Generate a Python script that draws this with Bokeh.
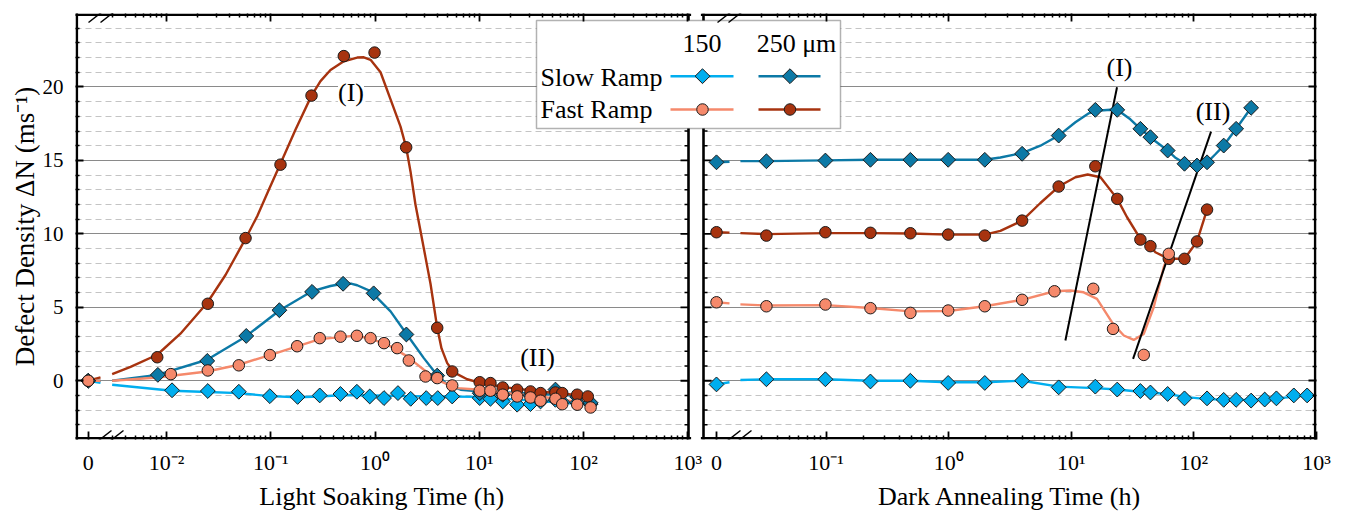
import math
from bokeh.plotting import figure
from bokeh.models import (Range1d, FixedTicker, LinearAxis, LogAxis, BoxAnnotation, Label, Arrow,
                          CustomJSTickFormatter, BasicTickFormatter)
from bokeh.embed import file_html
from bokeh.resources import INLINE

FONT = "Liberation Serif"

# ---------------- data: light soaking (left panel), t in h, 0 = initial ----------------
ls_s150_t = [0, 0.0113, 0.0249, 0.0494, 0.098, 0.181, 0.295, 0.466, 0.67, 0.89, 1.22, 1.66, 2.2, 3.1, 4.0, 5.5,
             10.1, 12.8, 16.8, 23.1, 31, 38.7, 53.8, 62.5, 87, 117]
ls_s150_v = [0, -0.65, -0.7, -0.75, -1.05, -1.1, -1.0, -0.9, -0.75, -1.07, -1.18, -0.84, -1.23, -1.18, -1.18, -1.07,
             -1.18, -1.23, -1.41, -1.63, -1.59, -1.41, -1.3, -1.45, -1.5, -1.59]
ls_s250_t = [0, 0.00826, 0.0246, 0.0582, 0.121, 0.249, 0.494, 0.97, 2.0, 3.95, 10.1, 16.8, 31, 53.8, 87, 117]
ls_s250_v = [0, 0.4, 1.35, 3.05, 4.8, 6.05, 6.6, 5.95, 3.15, 0.35, -0.85, -0.95, -1.0, -0.6, -1.1, -1.5]
ls_f150_t = [0, 0.011, 0.0249, 0.0494, 0.098, 0.179, 0.295, 0.466, 0.67, 0.906, 1.22, 1.63, 2.11, 3.05, 3.95, 5.5,
             10.1, 12.8, 16.8, 23.1, 31, 38.7, 53.8, 62.5, 87, 117]
ls_f150_v = [0, 0.45, 0.7, 1.05, 1.75, 2.35, 2.9, 3.0, 3.06, 2.9, 2.56, 2.22, 1.38, 0.29, 0.18, -0.32,
             -0.68, -0.68, -0.95, -1.07, -1.14, -1.36, -1.23, -1.6, -1.63, -1.82]
ls_f250_t = [0, 0.00815, 0.0249, 0.0573, 0.124, 0.246, 0.502, 0.99, 1.99, 3.95, 5.5,
             10.1, 12.8, 16.8, 23.1, 31, 38.7, 53.8, 62.5, 87, 110]
ls_f250_v = [0, 1.6, 5.24, 9.71, 14.71, 19.41, 22.1, 22.34, 15.89, 3.6, 0.63,
             -0.1, -0.16, -0.46, -0.61, -0.73, -0.84, -0.8, -0.84, -0.95, -1.07]

# fitted curves
ls_s150_fit_t = [0.00301, 0.0113, 0.0249, 0.0494, 0.098, 0.181, 0.295, 0.5, 1.0, 2.0, 5.0, 10, 20, 40, 80, 120]
ls_s150_fit_v = [-0.27, -0.68, -0.77, -0.84, -1.05, -1.12, -1.07, -0.97, -1.0, -1.05, -1.07, -1.1, -1.25, -1.4, -1.55, -1.6]
ls_s250_fit_t = [0.00301, 0.00815, 0.0245, 0.0573, 0.122, 0.246, 0.374, 0.502, 0.6, 0.675, 0.906, 1.41, 2.03, 2.94,
                 3.80, 4.93, 6.62, 10.3, 18.5, 38.7, 80.8, 117]
ls_s250_fit_v = [0.0, 0.4, 1.43, 3.0, 4.8, 6.08, 6.45, 6.62, 6.6, 6.5, 6.1, 4.72, 3.13, 1.54,
                 0.52, -0.27, -0.61, -0.73, -0.8, -0.9, -1.0, -1.1]
ls_f150_fit_t = [0.00301, 0.00815, 0.0245, 0.0494, 0.098, 0.179, 0.295, 0.466, 0.675, 0.975, 1.41, 2.03, 2.94, 4.25,
                 6.15, 10.3, 18.5, 38.7, 80.8, 117]
ls_f150_fit_v = [0.0, 0.22, 0.63, 1.09, 1.75, 2.34, 2.83, 2.97, 3.08, 2.79, 2.34, 1.66, 0.75, -0.05,
                 -0.5, -0.61, -0.84, -1.07, -1.41, -1.63]
ls_f250_fit_t = [0.00301, 0.00452, 0.00815, 0.0136, 0.0245, 0.0368, 0.0573, 0.0741, 0.0951, 0.122, 0.173, 0.246,
                 0.300, 0.374, 0.502, 0.675, 0.781, 0.906, 1.13, 1.51, 1.757, 1.99, 2.19, 2.443, 2.732, 3.051, 3.407,
                 3.952, 4.345, 4.927, 5.418, 6.144, 7.662, 10.28, 18.5, 38.7, 80.8, 117]
ls_f250_fit_v = [0.45, 0.95, 1.77, 3.2, 5.29, 7.2, 9.67, 11.2, 12.95, 14.67, 17.1, 19.41,
                 20.4, 21.15, 21.75, 22.0, 22.02, 21.85, 21.0, 18.57, 17.3, 15.89, 14.25, 12.0, 10.2, 8.4, 6.6,
                 3.6, 2.2, 1.2, 0.8, 0.45, 0.1, -0.15, -0.46, -0.73, -0.95, -1.07]

# ---------------- data: dark annealing (right panel) ----------------
da_t = [0, 0.0326, 0.0987, 0.23, 0.487, 0.99, 1.97, 3.97, 7.89, 15.7, 23.7, 36.6, 44.2, 61.1, 83.8, 106, 128, 175, 221, 293]
da_s250_v = [14.87, 14.94, 14.99, 15.04, 15.04, 15.04, 15.04, 15.45, 16.69, 18.44, 18.44, 17.15, 16.58, 15.67, 14.77,
             14.65, 14.87, 16.01, 17.15, 18.58]
da_f250_t = [0, 0.0326, 0.0987, 0.23, 0.487, 0.99, 1.97, 3.97, 7.89, 15.7, 23.7, 36.6, 44.2, 62.4, 83.8, 106, 128]
da_f250_v = [10.11, 9.88, 10.11, 10.07, 10.04, 9.95, 9.88, 10.9, 13.22, 14.6, 12.38, 9.61, 9.16, 8.3, 8.3, 9.48, 11.65]
da_f150_t = [0, 0.0326, 0.0987, 0.23, 0.487, 0.99, 1.97, 3.97, 7.29, 15.1, 21.9, 39, 62.4]
da_f150_v = [5.34, 5.07, 5.19, 4.94, 4.62, 4.78, 5.07, 5.51, 6.09, 6.26, 3.53, 1.76, 8.64]
da_s150_t = [0, 0.0326, 0.0987, 0.23, 0.487, 0.99, 1.97, 3.97, 7.89, 15.7, 23.7, 36.6, 44.2, 61.1, 83.8, 128, 175,
             221, 293, 378, 471, 653, 839]
da_s150_v = [-0.25, 0.1, 0.1, -0.05, 0.0, -0.15, -0.15, 0.0, -0.45, -0.4, -0.6, -0.7, -0.8, -0.9, -1.2, -1.2, -1.3,
             -1.3, -1.35, -1.28, -1.2, -1.0, -1.0]

da_s150_fit_t = [0.02, 0.0326, 0.0987, 0.23, 0.487, 0.99, 1.97, 3.97, 7.89, 15.7, 23.7, 36.6, 61.1, 83.8, 128, 200,
                 300, 400, 650, 840]
da_s150_fit_v = [0.05, 0.1, 0.1, 0.0, 0.0, -0.1, -0.1, 0.0, -0.4, -0.5, -0.6, -0.75, -0.9, -1.1, -1.25, -1.3,
                 -1.3, -1.25, -1.1, -1.0]
da_s250_fit_t = [0.02, 0.0326, 0.0987, 0.23, 0.487, 0.99, 1.97, 2.64, 3.97, 5.6, 7.89, 10.8, 13.8, 17.3, 20.8, 25.1,
                 30.3, 36.6, 44.2, 48.5, 61.1, 70.2, 83.8, 102, 128, 149, 175, 221, 293]
da_s250_fit_v = [14.95, 14.95, 15.0, 15.04, 15.04, 15.04, 15.04, 15.2, 15.5, 16.0, 16.69, 17.6, 18.2, 18.4, 18.45, 18.3,
                 17.8, 17.15, 16.58, 16.3, 15.67, 15.2, 14.8, 14.6, 14.85, 15.4, 16.01, 17.15, 18.58]
da_f250_fit_t = [0.02, 0.0326, 0.0987, 0.23, 0.487, 0.99, 1.97, 2.64, 3.97, 5.6, 7.89, 10.8, 13.6, 17.3, 23.7, 28.5,
                 36.6, 44.2, 48.5, 62.4, 83.8, 106, 128]
da_f250_fit_v = [10.05, 9.98, 10.05, 10.05, 10.02, 9.95, 9.95, 10.2, 10.9, 12.1, 13.22, 13.85, 14.04, 13.85, 12.38, 11.13,
                 9.66, 9.16, 8.75, 8.3, 8.3, 9.48, 11.65]
da_f150_fit_t = [0.02, 0.0326, 0.0987, 0.23, 0.487, 0.99, 1.97, 3.97, 7.29, 9.84, 12.6, 16.2, 21.9, 26.8, 32.3, 39.0,
                 47.0, 56.7, 62.3]
da_f150_fit_v = [5.2, 5.12, 5.15, 4.95, 4.72, 4.75, 5.07, 5.51, 6.09, 6.14, 6.02, 5.57, 3.87, 3.08, 2.78, 3.19,
                 5.0, 7.73, 8.64]

# guide lines (I) and (II) in the dark-annealing panel
da_guideI_t = [8.95, 23.6]
da_guideI_v = [2.74, 19.98]
da_guideII_t = [31.9, 138]
da_guideII_v = [1.49, 16.96]

# ticks / labels
y_ticks = [0, 5, 10, 15, 20]
left_decades = [-2, -1, 0, 1, 2, 3]
right_decades = [-1, 0, 1, 2, 3]
SUP = {"-": "\u207b", "0": "\u2070", "1": "\u00b9", "2": "\u00b2", "3": "\u00b3"}
x_title_left = "Light Soaking Time (h)"
x_title_right = "Dark Annealing Time (h)"
y_title = "Defect Density \u0394N (ms\u207b\u00b9)"

C_S150 = "#00AEEF"
C_S250 = "#0C79A6"
C_F150 = "#F5896B"
C_F250 = "#A7330F"
C_EDGE = "#1a1a1a"

# ---------------- layout geometry (pixels) ----------------
W, H = 1348, 525
FX0, FX1, FY0, FY1 = 75, 1316, 13, 439
L_END_PX, R_START_PX = 688, 703
LEG_L, LEG_R, LEG_T, LEG_B = 536, 840, 20, 128
L_DEC, R_DEC = 104.25, 122.6
L_LOG0 = -2.873
L_ZERO_LOG = -2.751
R_LOG_START = -2.0
R_ZERO_LOG = -1.894
Y_MIN, Y_MAX = -4, 25


def L_of_px(px):
    return 10 ** (L_LOG0 + (px - FX0) / L_DEC)


def R_of_px(px):
    return 10 ** (R_LOG_START + (px - R_START_PX) / R_DEC)


def px_of_R(t):
    return R_START_PX + (math.log10(t) - R_LOG_START) * R_DEC


def R_to_L(t):
    return L_of_px(px_of_R(t))


def v_of_py(py):
    return Y_MAX - (py - FY0) * (Y_MAX - Y_MIN) / (FY1 - FY0)


def lpos(ts):
    return [t if t > 0 else 10 ** L_ZERO_LOG for t in ts]


def rpos(ts):
    return [t if t > 0 else 10 ** R_ZERO_LOG for t in ts]


def sup(d):
    return "10" + "".join(SUP[c] for c in str(d))


p = figure(width=W, height=H, x_axis_type="log",
           x_range=Range1d(L_of_px(FX0), L_of_px(FX1)), y_range=Range1d(Y_MIN, Y_MAX),
           output_backend="svg", toolbar_location=None,
           min_border_left=FX0, min_border_right=W - FX1, min_border_top=FY0, min_border_bottom=H - FY1,
           outline_line_color=None, background_fill_color="white", border_fill_color="white")
p.extra_x_ranges = {"R": Range1d(R_of_px(FX0), R_of_px(FX1))}
try:
    from bokeh.models import LogScale
    p.extra_x_scales = {"R": LogScale()}
except Exception:
    pass

# ---------- ticks ----------
bot_major = [10 ** L_ZERO_LOG] + [10.0 ** d for d in left_decades] + \
            [R_to_L(10 ** R_ZERO_LOG)] + [R_to_L(10.0 ** d) for d in right_decades]
bot_labels = ["0"] + [sup(d) for d in left_decades] + ["0"] + [sup(d) for d in right_decades]
top_major = [10.0 ** d for d in left_decades] + [R_to_L(10.0 ** d) for d in right_decades[:-1]]
minors = [k * 1e-3 for k in range(3, 10)] + [k * 10.0 ** d for d in range(-2, 3) for k in range(2, 10)]
minors += [R_to_L(k * 1e-2) for k in range(3, 10)] + [R_to_L(k * 10.0 ** d) for d in range(-1, 3) for k in range(2, 10)]
y_minor = [v for v in range(-3, 25) if v % 5 != 0]

PICK = """
let best = -1, bd = 1e9;
for (let i = 0; i < tv.length; i++) {
  const d = Math.abs(Math.log10(tv[i]) - Math.log10(tick));
  if (d < bd) { bd = d; best = i; }
}
return bd < 1e-6 ? tl[best] : "";
"""


def style_axis(ax, hide_labels=True):
    ax.axis_line_color = None
    ax.major_tick_in = 8
    ax.major_tick_out = 0
    ax.minor_tick_in = 4
    ax.minor_tick_out = 0
    ax.major_tick_line_width = 1.8
    ax.minor_tick_line_width = 1.5
    ax.major_tick_line_color = "black"
    ax.minor_tick_line_color = "black"
    ax.major_label_text_font = FONT
    ax.major_label_text_color = "black"
    if hide_labels:
        ax.formatter = CustomJSTickFormatter(code="return ''")
        ax.major_label_text_font_size = "1px"
        ax.major_label_text_alpha = 0
        ax.major_label_standoff = 0


# bottom axis: ticks + tick labels
xb = p.xaxis[0]
xb.ticker = FixedTicker(ticks=bot_major, minor_ticks=minors)
style_axis(xb, hide_labels=False)
xb.formatter = CustomJSTickFormatter(args=dict(tv=bot_major, tl=bot_labels), code=PICK)
xb.major_label_text_font_size = "22px"
xb.major_label_standoff = 10

# second bottom axis: the two panel titles
title_pos = [L_of_px((FX0 + L_END_PX) / 2), L_of_px((R_START_PX + FX1) / 2)]
xb2 = LogAxis(ticker=FixedTicker(ticks=title_pos, minor_ticks=[]),
              formatter=CustomJSTickFormatter(args=dict(tv=title_pos, tl=[x_title_left, x_title_right]), code=PICK))
xb2.axis_line_color = None
xb2.major_tick_line_color = None
xb2.minor_tick_line_color = None
xb2.major_tick_in = 0
xb2.major_tick_out = 0
xb2.major_label_text_font = FONT
xb2.major_label_text_font_size = "26px"
xb2.major_label_text_color = "black"
xb2.major_label_standoff = 4
p.add_layout(xb2, "below")

xt = LogAxis(ticker=FixedTicker(ticks=top_major, minor_ticks=minors))
style_axis(xt)
p.add_layout(xt, "above")

yl = p.yaxis[0]
yl.ticker = FixedTicker(ticks=y_ticks, minor_ticks=y_minor)
style_axis(yl, hide_labels=False)
yl.formatter = BasicTickFormatter()
yl.major_label_text_font_size = "21px"
yl.major_label_standoff = 12
yl.axis_label = y_title
yl.axis_label_text_font = FONT
yl.axis_label_text_font_size = "27px"
yl.axis_label_text_font_style = "normal"
yl.axis_label_text_color = "black"
yl.axis_label_standoff = 0
yr = LinearAxis(ticker=FixedTicker(ticks=y_ticks, minor_ticks=y_minor))
style_axis(yr)
p.add_layout(yr, "right")

# ---------- grid ----------
p.xgrid.visible = False
g = p.ygrid[0]
g.ticker = FixedTicker(ticks=y_ticks, minor_ticks=y_minor)
g.grid_line_color = "#8a8a8a"
g.grid_line_width = 1.2
g.minor_grid_line_color = "#c4c4c4"
g.minor_grid_line_dash = "6 4"
g.minor_grid_line_width = 1

# gap between the panels (hides the grid there)
p.add_layout(BoxAnnotation(left=L_of_px(L_END_PX), right=L_of_px(R_START_PX), fill_color="white", fill_alpha=1,
                           line_color=None, level="underlay"))
# legend box
p.add_layout(BoxAnnotation(left=L_of_px(LEG_L), right=L_of_px(LEG_R), top=v_of_py(LEG_T), bottom=v_of_py(LEG_B),
                           fill_color="white", fill_alpha=1, line_color="black", line_width=1.5, level="underlay"))

# panel frames (drawn just inside the plotting area)
FW = 2.6
hw = FW / 2
fx0, fy0, fx1, fy1 = [], [], [], []


def seg(xa, ya, xb_, yb):
    fx0.append(L_of_px(xa)); fy0.append(v_of_py(ya)); fx1.append(L_of_px(xb_)); fy1.append(v_of_py(yb))


for a, b in [(FX0, L_END_PX + hw), (R_START_PX - hw, FX1)]:
    seg(a, FY0 + hw, b, FY0 + hw)
    seg(a, FY1 - hw, b, FY1 - hw)
seg(FX0 + hw, FY0, FX0 + hw, FY1)
seg(FX1 - hw, FY0, FX1 - hw, FY1)
p.segment(fx0, fy0, fx1, fy1, line_color="black", line_width=FW, line_cap="square")
ix0, iy0, ix1, iy1 = [], [], [], []
for xpx in [L_END_PX, R_START_PX]:
    for ya, yb in [(FY0, LEG_T), (LEG_B, FY1)]:
        ix0.append(L_of_px(xpx)); iy0.append(v_of_py(ya)); ix1.append(L_of_px(xpx)); iy1.append(v_of_py(yb))
p.segment(ix0, iy0, ix1, iy1, line_color="black", line_width=FW)

# inner y ticks of the two panels (those not under the legend)
inner_major = [v for v in y_ticks if v_of_py(LEG_B) > v]
inner_minor = [v for v in y_minor if v_of_py(LEG_B) > v]
for xpx, ang in [(L_END_PX, math.pi), (R_START_PX, 0)]:
    p.ray(x=[L_of_px(xpx)] * len(inner_major), y=inner_major, length=8, length_units="screen", angle=ang,
          line_color="black", line_width=1.8)
    p.ray(x=[L_of_px(xpx)] * len(inner_minor), y=inner_minor, length=4, length_units="screen", angle=ang,
          line_color="black", line_width=1.5)

# ---------- data ----------
LW = 2.4
left_series = [
    (ls_s150_fit_t, ls_s150_fit_v, ls_s150_t, ls_s150_v, C_S150, "d"),
    (ls_s250_fit_t, ls_s250_fit_v, ls_s250_t, ls_s250_v, C_S250, "d"),
    (ls_f250_fit_t, ls_f250_fit_v, ls_f250_t, ls_f250_v, C_F250, "o"),
    (ls_f150_fit_t, ls_f150_fit_v, ls_f150_t, ls_f150_v, C_F150, "o"),
]
right_series = [
    (da_s150_fit_t, da_s150_fit_v, da_s150_t, da_s150_v, C_S150, "d"),
    (da_s250_fit_t, da_s250_fit_v, da_t, da_s250_v, C_S250, "d"),
    (da_f250_fit_t, da_f250_fit_v, da_f250_t, da_f250_v, C_F250, "o"),
    (da_f150_fit_t, da_f150_fit_v, da_f150_t, da_f150_v, C_F150, "o"),
]


def marker(x, y, color, kind, **kw):
    if kind == "d":
        p.scatter(x, y, marker="square", angle=math.pi / 4, size=10.5, fill_color=color, line_color=C_EDGE,
                  line_width=1, **kw)
    else:
        p.scatter(x, y, marker="circle", size=11.5, fill_color=color, line_color=C_EDGE, line_width=1, **kw)


for ft, fv, t, v, c, k in left_series:
    p.line(ft, fv, line_color=c, line_width=LW, line_join="round")
    p.line([10 ** L_ZERO_LOG, L_of_px(100)], [v[0], fv[0] * 0.5], line_color=c, line_width=LW)
for ft, fv, t, v, c, k in right_series:
    p.line(ft, fv, line_color=c, line_width=LW, line_join="round", x_range_name="R")
    p.line([10 ** R_ZERO_LOG, R_of_px(729)], [v[0], (v[0] + fv[0]) / 2], line_color=c, line_width=LW, x_range_name="R")
p.line(da_guideI_t, da_guideI_v, line_color="black", line_width=2, x_range_name="R")
p.line(da_guideII_t, da_guideII_v, line_color="black", line_width=2, x_range_name="R")
for ft, fv, t, v, c, k in left_series:
    marker(lpos(t), v, c, k)
for ft, fv, t, v, c, k in right_series:
    marker(rpos(t), v, c, k, x_range_name="R")

# legend samples
for row_py, cols in [(75.7, [(C_S150, "d"), (C_S250, "d")]), (109, [(C_F150, "o"), (C_F250, "o")])]:
    for (x0, x1, xm), (c, k) in zip([(670, 733, 702), (758, 820, 789.5)], cols):
        p.line([L_of_px(x0), L_of_px(x1)], [v_of_py(row_py)] * 2, line_color=c, line_width=LW)
        marker([L_of_px(xm)], [v_of_py(row_py)], c, k)


# ---------- texts inside the plotting area ----------
def label(px, py, text, size="26px", align="center", baseline="middle", bg=None):
    kw = {}
    if bg:
        kw["background_fill_color"] = bg
    p.add_layout(Label(x=L_of_px(px), y=v_of_py(py), text=text, text_font=FONT, text_font_size=size,
                       text_align=align, text_baseline=baseline, text_color="black", **kw))


label(701.5, 43, "150")
label(796, 43, "250 \u03bcm")
label(540, 76.7, "Slow Ramp", align="left")
label(540, 109, "Fast Ramp", align="left")

label(350.5, 92, "(I)", bg="white")
label(537, 357, "(II)", bg="white")
label(1119, 67, "(I)", bg="white")
label(1212.5, 111, "(II)", bg="white")

# axis break marks
for x0 in [88, 100, 717, 728]:
    for (ya, yb) in [(448, 430), (22, 4)]:
        p.add_layout(Arrow(end=None, x_start=L_of_px(x0), y_start=v_of_py(ya), x_end=L_of_px(x0 + 23),
                           y_end=v_of_py(yb), line_color="black", line_width=1.5))

open("out.html", "w").write(file_html(p, INLINE))
